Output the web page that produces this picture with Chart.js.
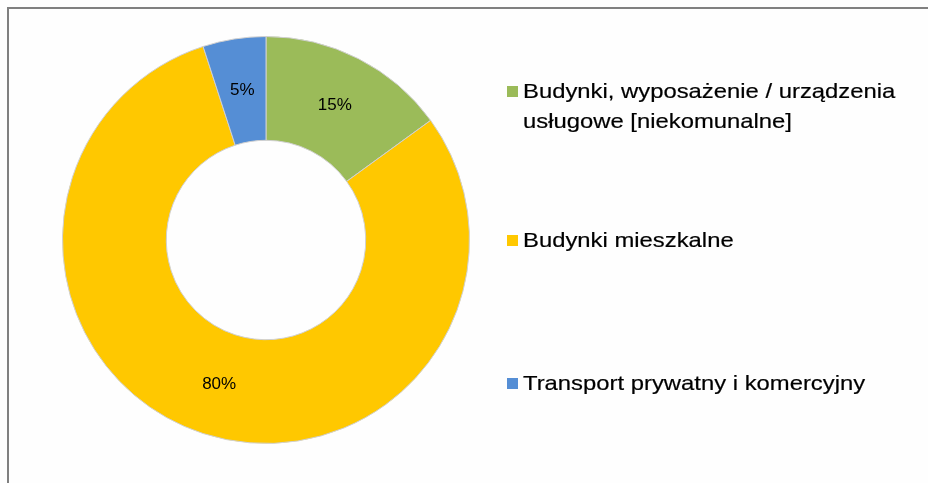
<!DOCTYPE html>
<html>
<head>
<meta charset="utf-8">
<script src="https://cdn.jsdelivr.net/npm/chart.js@4/dist/chart.umd.min.js"></script>
<style>
  body { margin: 0; background: #fefefe; width: 928px; height: 483px; overflow: hidden; position: relative; font-family: "Liberation Sans", Arial, sans-serif; }
  .frame { position: absolute; left: 7px; top: 7px; width: 940px; height: 500px; border-left: 2px solid #808080; border-top: 2px solid #808080; }
  #wrap { position: absolute; left: 0; top: 0; width: 532px; height: 483px; }
  #legend { position: absolute; left: 507px; top: 0; width: 420px; }
  .item { position: absolute; left: 0; display: flex; align-items: flex-start; font-size: 21px; line-height: 30px; color: #000; }
  .box { width: 11px; height: 11px; margin-top: 10px; margin-right: 5px; flex: none; }
  .txt { transform: scaleX(1.135); transform-origin: 0 0; white-space: nowrap; -webkit-text-stroke: 0.2px #000; }
</style>
</head>
<body>
<div class="frame"></div>
<div id="wrap"><canvas id="chart"></canvas></div>
<div id="legend"></div>
<script>
const categories = [
  ['Budynki, wyposażenie / urządzenia', 'usługowe [niekomunalne]'],
  ['Budynki mieszkalne'],
  ['Transport prywatny i komercyjny']
];
const shares = [15, 80, 5];
const colors = ['#9bbb59', '#ffc800', '#558ed5'];
const legendTops = [76, 225, 368];

// percent labels in the middle of each slice
const sliceLabels = {
  id: 'sliceLabels',
  afterDatasetsDraw(chart) {
    const ctx = chart.ctx;
    const meta = chart.getDatasetMeta(0);
    ctx.save();
    ctx.font = '17px "Liberation Sans", Arial, sans-serif';
    ctx.fillStyle = '#000';
    ctx.textAlign = 'center';
    ctx.textBaseline = 'middle';
    meta.data.forEach((arc, i) => {
      const p = arc.tooltipPosition();
      ctx.fillText(shares[i] + '%', p.x, p.y);
    });
    ctx.restore();
  }
};

new Chart(document.getElementById('chart'), {
  type: 'doughnut',
  data: {
    labels: categories.map(c => c.join(' ')),
    datasets: [{
      data: shares,
      backgroundColor: colors,
      borderColor: '#d0d0d0',
      borderWidth: 1
    }]
  },
  options: {
    responsive: true,
    maintainAspectRatio: false,
    animation: false,
    cutout: '49%',
    layout: { padding: { top: 36, bottom: 39, left: 62, right: 62 } },
    plugins: {
      legend: { display: false },
      tooltip: { enabled: false }
    }
  },
  plugins: [sliceLabels]
});

const legend = document.getElementById('legend');
categories.forEach((lines, i) => {
  const item = document.createElement('div');
  item.className = 'item';
  item.style.top = legendTops[i] + 'px';
  item.innerHTML = '<div class="box" style="background:' + colors[i] + '"></div><div class="txt">' + lines.join('<br>') + '</div>';
  legend.appendChild(item);
});
</script>
</body>
</html>
